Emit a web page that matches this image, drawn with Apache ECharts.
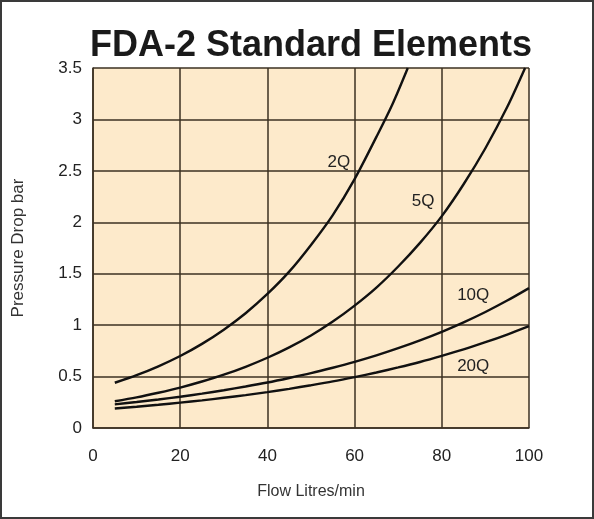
<!DOCTYPE html>
<html>
<head>
<meta charset="utf-8">
<script src="https://cdn.jsdelivr.net/npm/echarts@6/dist/echarts.min.js"></script>
<style>
  html, body { margin: 0; padding: 0; background: #fff; }
  #frame { position: absolute; left: 0; top: 0; width: 594px; height: 519px; box-sizing: border-box; border: 2px solid #3a3a3a; }
  #chart { position: absolute; left: 0; top: 0; width: 594px; height: 519px; }
</style>
</head>
<body>
<div id="chart"></div>
<div id="frame"></div>
<script>
// readings: flow (l/min) and pressure drop (bar)
const seriesNames = ['2Q', '5Q', '10Q', '20Q']
const flow2Q = [5, 10, 15, 20, 25, 30, 35, 40, 45, 50, 55, 60, 65, 68.6, 72.2]
const drop2Q = [0.44, 0.514, 0.60, 0.70, 0.818, 0.956, 1.116, 1.303, 1.52, 1.78, 2.07, 2.42, 2.83, 3.14, 3.5]
const flowAll = [5, 10, 15, 20, 25, 30, 35, 40, 45, 50, 55, 60, 65, 70, 75, 80, 85, 90, 95, 100]
const flow5Q = [5, 10, 15, 20, 25, 30, 35, 40, 45, 50, 55, 60, 65, 70, 75, 80, 85, 90, 95, 99.1]
const drop5Q = [0.26, 0.298, 0.343, 0.393, 0.452, 0.518, 0.595, 0.683, 0.784, 0.90, 1.035, 1.19, 1.365, 1.57, 1.80, 2.06, 2.37, 2.72, 3.12, 3.5]
const drop10Q = [0.23, 0.253, 0.277, 0.304, 0.334, 0.367, 0.403, 0.442, 0.486, 0.533, 0.586, 0.643, 0.706, 0.776, 0.852, 0.935, 1.027, 1.128, 1.239, 1.36]
const drop20Q = [0.19, 0.207, 0.226, 0.247, 0.269, 0.294, 0.32, 0.349, 0.381, 0.416, 0.453, 0.495, 0.54, 0.589, 0.642, 0.701, 0.764, 0.834, 0.909, 0.99]
// where the curve names sit, in data units
const labelSpots = [[56.4, 2.58], [75.7, 2.2], [87.2, 1.29], [87.2, 0.6]]

const zip = (xs, ys) => xs.map((x, i) => [x, ys[i]])
const curves = [zip(flow2Q, drop2Q), zip(flow5Q, drop5Q), zip(flowAll, drop10Q), zip(flowAll, drop20Q)]

const gridColor = '#3b3122'
const font = '"Liberation Sans", Arial, sans-serif'

let myChart = echarts.init(document.getElementById('chart'))
myChart.setOption({
    animation: false,
    title: {
        text: 'FDA-2 Standard Elements',
        left: 85,
        top: 23,
        textStyle: { fontFamily: font, fontWeight: 'bold', fontSize: 36, color: '#1a1a1a' }
    },
    grid: {
        left: 93,
        right: 65,
        top: 68,
        bottom: 91,
        show: true,
        backgroundColor: '#fdeacb',
        borderWidth: 0
    },
    xAxis: {
        type: 'value',
        min: 0,
        max: 100,
        interval: 20,
        name: 'Flow Litres/min',
        nameLocation: 'middle',
        nameGap: 56,
        nameTextStyle: { fontFamily: font, fontSize: 16, color: '#333' },
        axisLine: { show: true, lineStyle: { color: gridColor, width: 1.5 } },
        axisTick: { show: false },
        axisLabel: { margin: 20, fontFamily: font, fontSize: 17, color: '#222' },
        splitLine: { show: true, lineStyle: { color: gridColor, width: 1.5 } }
    },
    yAxis: {
        type: 'value',
        min: 0,
        max: 3.5,
        interval: 0.5,
        name: 'Pressure Drop bar',
        nameLocation: 'middle',
        nameGap: 66,
        nameTextStyle: { fontFamily: font, fontSize: 17, color: '#333' },
        axisLine: { show: true, lineStyle: { color: gridColor, width: 1.5 } },
        axisTick: { show: false },
        axisLabel: { margin: 11, fontFamily: font, fontSize: 17, color: '#222' },
        splitLine: { show: true, lineStyle: { color: gridColor, width: 1.5 } }
    },
    series: seriesNames.map((name, i) => ({
        name: name,
        type: 'line',
        data: curves[i],
        smooth: 0.3,
        showSymbol: false,
        lineStyle: { color: '#111', width: 2.4 },
        markPoint: {
            symbol: 'circle',
            symbolSize: 0,
            data: [{ coord: labelSpots[i] }],
            label: {
                show: true,
                formatter: name,
                position: 'inside',
                fontFamily: font,
                fontSize: 17,
                color: '#222'
            }
        }
    }))
})
</script>
</body>
</html>
